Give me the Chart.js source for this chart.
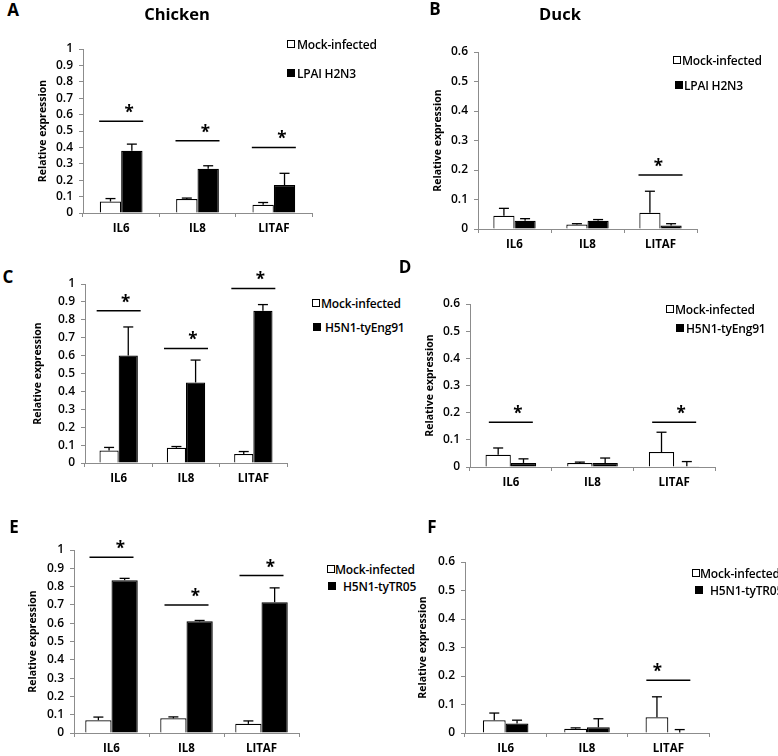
<!DOCTYPE html>
<html>
<head>
<meta charset="utf-8">
<script src="https://cdn.jsdelivr.net/npm/chart.js@4.4.0/dist/chart.umd.min.js"></script>
<style>
  html, body { margin:0; padding:0; background:#fff; }
  body { width:778px; height:756px; position:relative; overflow:hidden; font-family:"Open Sans", "Liberation Sans", sans-serif; }
  canvas { position:absolute; }
  .txt { position:absolute; white-space:nowrap; color:#000; }
  .letter { font-weight:700; font-size:17px; transform:translate(-50%,-50%); }
  .title { font-weight:700; font-size:16.5px; transform:translate(-50%,-50%); }
  .leg { font-size:12px; font-weight:600; transform:translateY(-50%); letter-spacing:-0.2px; }
  .box { position:absolute; width:8px; height:8px; border:1px solid #000; box-sizing:border-box; }
</style>
</head>
<body>
<script>
// ---------------- DATA ----------------
const categories = ['IL6', 'IL8', 'LITAF'];
const seriesMock = 'Mock-infected';

// Panel A (Chicken, LPAI H2N3)
const aMock    = [0.07, 0.085, 0.05];
const aMockErr = [0.018, 0.006, 0.014];
const aInf     = [0.38, 0.27, 0.17];
const aInfErr  = [0.04, 0.018, 0.072];
const aSig     = [0.56, 0.44, 0.40];

// Panel B (Duck, LPAI H2N3)
const bMock    = [0.045, 0.015, 0.055];
const bMockErr = [0.025, 0.003, 0.073];
const bInf     = [0.028, 0.028, 0.012];
const bInfErr  = [0.007, 0.004, 0.006];
const bSig     = [null, null, 0.183];

// Panel C (Chicken, H5N1-tyEng91)
const cMock    = [0.07, 0.085, 0.05];
const cMockErr = [0.017, 0.007, 0.014];
const cInf     = [0.60, 0.45, 0.85];
const cInfErr  = [0.16, 0.125, 0.035];
const cSig     = [0.85, 0.64, 0.975];

// Panel D (Duck, H5N1-tyEng91)
const dMock    = [0.045, 0.015, 0.055];
const dMockErr = [0.025, 0.003, 0.073];
const dInf     = [0.015, 0.015, 0.003];
const dInfErr  = [0.015, 0.018, 0.017];
const dSig     = [0.165, null, 0.165];

// Panel E (Chicken, H5N1-tyTR05)
const eMock    = [0.07, 0.08, 0.05];
const eMockErr = [0.017, 0.008, 0.016];
const eInf     = [0.835, 0.61, 0.715];
const eInfErr  = [0.01, 0.005, 0.078];
const eSig     = [0.96, 0.70, 0.86];

// Panel F (Duck, H5N1-tyTR05)
const fMock    = [0.045, 0.015, 0.055];
const fMockErr = [0.025, 0.003, 0.072];
const fInf     = [0.033, 0.02, 0.002];
const fInfErr  = [0.012, 0.03, 0.01];
const fSig     = [null, null, 0.185];

const chickenMax = 1, duckMax = 0.6;

// ---------------- LAYOUT ----------------
const panels = [
  {letter:'A', lx:13, ly:9,   virus:'LPAI H2N3',     mock:aMock, mockErr:aMockErr, inf:aInf, infErr:aInfErr, sig:aSig, max:chickenMax,
   plot:[83,49,312,213], cat:0.56, titleGap:40, starDx:8,
   leg:[[287,43.5,297],[287,72.5,297]]},
  {letter:'B', lx:435, ly:8,  virus:'LPAI H2N3',     mock:bMock, mockErr:bMockErr, inf:bInf, infErr:bInfErr, sig:bSig, max:duckMax,
   plot:[478,52,697,229], cat:0.58, titleGap:40, starDx:-2,
   leg:[[673,60,682],[675,85,684]]},
  {letter:'C', lx:8, ly:276,  virus:'H5N1-tyEng91',  mock:cMock, mockErr:cMockErr, inf:cInf, infErr:cInfErr, sig:cSig, max:chickenMax,
   plot:[85,284,287,463], cat:0.57, titleGap:47, starDx:7,
   leg:[[312,302.5,321],[313,327,325]]},
  {letter:'D', lx:405, ly:266, virus:'H5N1-tyEng91', mock:dMock, mockErr:dMockErr, inf:dInf, infErr:dInfErr, sig:dSig, max:duckMax,
   plot:[470,304,715,467], cat:0.62, titleGap:40, starDx:7,
   leg:[[666,309,675],[676,328,686]]},
  {letter:'E', lx:14, ly:526, virus:'H5N1-tyTR05',   mock:eMock, mockErr:eMockErr, inf:eInf, infErr:eInfErr, sig:eSig, max:chickenMax,
   plot:[74,550,299,733], cat:0.70, titleGap:41, starDx:9,
   leg:[[327,569,335],[328,586,343]]},
  {letter:'F', lx:432, ly:526, virus:'H5N1-tyTR05',  mock:fMock, mockErr:fMockErr, inf:fInf, infErr:fInfErr, sig:fSig, max:duckMax,
   plot:[465,562,709,733], cat:0.56, titleGap:42, starDx:-11,
   leg:[[692,573,700],[695,590,710]]},
];

const FONT = '"Open Sans", "Liberation Sans", sans-serif';
const AXIS_COLOR = '#8c8c8c';
const Y_W = 60, X_H = 28, PAD_T = 30, PAD_R = 4;

const annotPlugin = {
  id: 'annot',
  afterDatasetsDraw(chart, args, opts) {
    const ctx = chart.ctx, xs = chart.scales.x, ys = chart.scales.y;
    ctx.save();
    ctx.strokeStyle = '#000';
    ctx.lineWidth = 1.3;
    const seg = (x1, y1, x2, y2) => { ctx.beginPath(); ctx.moveTo(x1, y1); ctx.lineTo(x2, y2); ctx.stroke(); };
    chart.data.datasets.forEach((ds, di) => {
      const meta = chart.getDatasetMeta(di);
      meta.data.forEach((bar, i) => {
        const e = ds.err[i];
        if (!e) return;
        const base = ys.getPixelForValue(ds.data[i]);
        const top = ys.getPixelForValue(ds.data[i] + e);
        seg(bar.x, base, bar.x, top);
        seg(bar.x - 5, top, bar.x + 5, top);
      });
    });
    ctx.lineWidth = 1.5;
    ctx.fillStyle = '#000';
    ctx.font = '700 17px ' + FONT;
    ctx.textAlign = 'center';
    ctx.textBaseline = 'alphabetic';
    opts.sig.forEach((v, i) => {
      if (v == null) return;
      const cx = xs.getPixelForValue(i);
      const py = ys.getPixelForValue(v);
      seg(cx - 22, py, cx + 22, py);
      ctx.fillText('*', cx + opts.starDx, py - 3);
    });
    ctx.restore();
  }
};

function addText(cls, text, x, y) {
  const d = document.createElement('div');
  d.className = 'txt ' + cls;
  d.textContent = text;
  d.style.left = x + 'px';
  d.style.top = y + 'px';
  document.body.appendChild(d);
  return d;
}
function addBox(x, cy, filled) {
  const b = document.createElement('div');
  b.className = 'box';
  b.style.left = x + 'px';
  b.style.top = (cy - 4) + 'px';
  b.style.background = filled ? '#000' : '#fff';
  document.body.appendChild(b);
}

panels.forEach(p => {
  const [L, T, R, B] = p.plot;
  const cv = document.createElement('canvas');
  const left = L - Y_W, top = T - PAD_T;
  const w = (R - L) + Y_W + PAD_R, h = (B - T) + PAD_T + X_H;
  cv.style.left = left + 'px';
  cv.style.top = top + 'px';
  cv.width = w; cv.height = h;
  cv.style.width = w + 'px'; cv.style.height = h + 'px';
  document.body.appendChild(cv);

  new Chart(cv.getContext('2d'), {
    type: 'bar',
    data: {
      labels: categories,
      datasets: [
        { label: seriesMock, data: p.mock, err: p.mockErr, backgroundColor: '#ffffff', borderColor: '#000', borderWidth: 1.2,
          categoryPercentage: p.cat, barPercentage: 1 },
        { label: p.virus, data: p.inf, err: p.infErr, backgroundColor: '#000000', borderColor: '#000', borderWidth: 1.2,
          categoryPercentage: p.cat, barPercentage: 1 }
      ]
    },
    options: {
      responsive: false,
      animation: false,
      devicePixelRatio: 1,
      layout: { padding: { left: 0, top: PAD_T, right: PAD_R, bottom: 0 } },
      plugins: {
        legend: { display: false },
        tooltip: { enabled: false },
        annot: { sig: p.sig, starDx: p.starDx }
      },
      scales: {
        x: {
          border: { display: true, color: AXIS_COLOR, width: 1 },
          grid: { display: true, drawOnChartArea: false, drawTicks: true, tickLength: 4, color: AXIS_COLOR, offset: true },
          ticks: { color: '#000', font: { family: FONT, size: 11.5, weight: '700' }, padding: 5 },
          afterFit: s => { s.height = X_H; }
        },
        y: {
          min: 0, max: p.max,
          border: { display: true, color: AXIS_COLOR, width: 1 },
          grid: { display: true, drawOnChartArea: false, drawTicks: true, tickLength: 4, color: AXIS_COLOR },
          ticks: { stepSize: 0.1, autoSkip: false, maxTicksLimit: 20, color: '#000',
                   font: { family: FONT, size: 12, weight: '600', lineHeight: 1.0 }, padding: 6,
                   callback: v => String(+(+v).toFixed(1)) },
          title: { display: true, text: 'Relative expression', color: '#000',
                   font: { family: FONT, size: 10.5, weight: '700', lineHeight: 1.2 },
                   padding: { top: Y_W - p.titleGap - 6, bottom: 0 } },
          afterFit: s => { s.width = Y_W; }
        }
      }
    },
    plugins: [annotPlugin]
  });

  addText('letter', p.letter, p.lx, p.ly);
  addBox(p.leg[0][0], p.leg[0][1], false);
  addText('leg', seriesMock, p.leg[0][2], p.leg[0][1]);
  addBox(p.leg[1][0], p.leg[1][1], true);
  addText('leg', p.virus, p.leg[1][2], p.leg[1][1]);
});

addText('title', 'Chicken', 177, 13);
addText('title', 'Duck', 560, 13);
</script>
</body>
</html>
